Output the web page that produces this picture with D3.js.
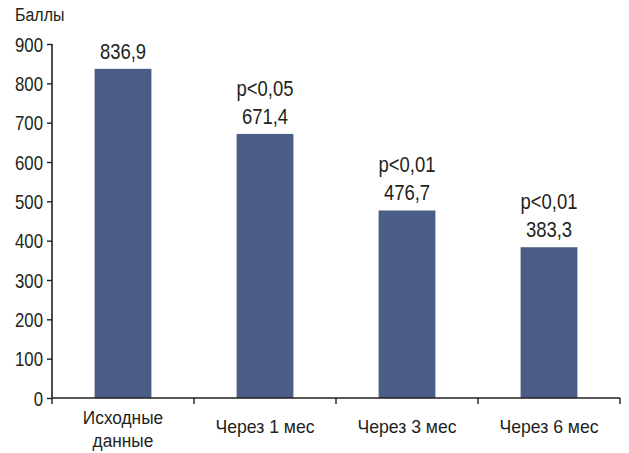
<!DOCTYPE html>
<html>
<head>
<meta charset="utf-8">
<script src="https://cdn.jsdelivr.net/npm/d3@7"></script>
<style>
  body { margin: 0; background: #fff; }
  text { font-family: "Liberation Sans", Arial, sans-serif; fill: #231f20; }
</style>
</head>
<body>
<div id="chart"></div>
<script>
// Data
var categories = [["Исходные", "данные"], ["Через 1 мес"], ["Через 3 мес"], ["Через 6 мес"]];
var values = [836.9, 671.4, 476.7, 383.3];
var valueLabels = ["836,9", "671,4", "476,7", "383,3"];
var pLabels = ["", "p<0,05", "p<0,01", "p<0,01"];
var yTicks = [0, 100, 200, 300, 400, 500, 600, 700, 800, 900];

const margin = { top: 44, right: 9, bottom: 55, left: 52 },
    width = 629 - margin.left - margin.right,
    height = 453 - margin.top - margin.bottom;

// the original uses a condensed face; squeeze text horizontally
var narrow = 0.84;

var x = d3.scaleBand().domain(d3.range(values.length)).range([0, width]).padding(0);
var y = d3.scaleLinear().domain([0, 900]).range([height, 0]);

var svg = d3.select("#chart")
    .append("svg")
    .attr("width", width + margin.left + margin.right)
    .attr("height", height + margin.top + margin.bottom)
    .append("g")
    .attr("transform", "translate(" + margin.left + "," + margin.top + ")");

function label(px, py, txt, size, anchor, sx) {
    return svg.append("g")
        .attr("transform", "translate(" + px + "," + py + ")")
        .append("text")
        .attr("transform", "scale(" + sx + ",1)")
        .attr("text-anchor", anchor)
        .style("font-size", size + "px")
        .text(txt);
}

// bars
var barW = x.bandwidth() * 0.4;
svg.selectAll(".bar")
    .data(values)
    .enter().append("rect")
    .attr("class", "bar")
    .attr("x", function(d, i) { return x(i) + (x.bandwidth() - barW) / 2; })
    .attr("y", function(d) { return y(d); })
    .attr("width", barW)
    .attr("height", function(d) { return height - y(d); })
    .style("fill", "#4a5d87");

// value + significance labels
values.forEach(function(d, i) {
    var cx = x(i) + x.bandwidth() / 2;
    label(cx, y(d) - 10, valueLabels[i], 22, "middle", narrow);
    if (pLabels[i]) label(cx, y(d) - 38, pLabels[i], 22, "middle", narrow);
});

// Y axis
var yAxis = svg.append("g")
    .call(d3.axisLeft(y).tickValues(yTicks).tickSize(5));
yAxis.select(".domain").attr("stroke", "#231f20").attr("stroke-width", 1.6).attr("d", "M0," + height + "V" + y(900));
yAxis.selectAll(".tick line").attr("stroke", "#231f20").attr("stroke-width", 1.4);
yAxis.selectAll(".tick text")
    .attr("x", -9 / narrow)
    .attr("dy", "0.36em")
    .attr("transform", "scale(" + narrow + ",1)")
    .attr("fill", null)
    .style("font-family", null)
    .style("font-size", "20px");

// X axis: line with ticks at band boundaries
svg.append("line")
    .attr("x1", 0).attr("x2", width)
    .attr("y1", height).attr("y2", height)
    .attr("stroke", "#231f20").attr("stroke-width", 1.6);
var bounds = d3.range(values.length + 1).map(function(i) { return i < values.length ? x(i) : width; });
svg.selectAll(".xtick")
    .data(bounds)
    .enter().append("line")
    .attr("x1", function(d) { return d; }).attr("x2", function(d) { return d; })
    .attr("y1", height).attr("y2", height + 6)
    .attr("stroke", "#231f20").attr("stroke-width", 1.4);

// category labels
categories.forEach(function(lines, i) {
    var cx = x(i) + x.bandwidth() / 2;
    if (lines.length > 1) {
        lines.forEach(function(l, j) { label(cx, height + 26 + j * 23, l, 18, "middle", 0.96); });
    } else {
        label(cx, height + 35, lines[0], 18, "middle", 0.98);
    }
});

// Y axis title
label(-margin.left + 15, -margin.top + 21, "Баллы", 19, "start", narrow);
</script>
</body>
</html>
